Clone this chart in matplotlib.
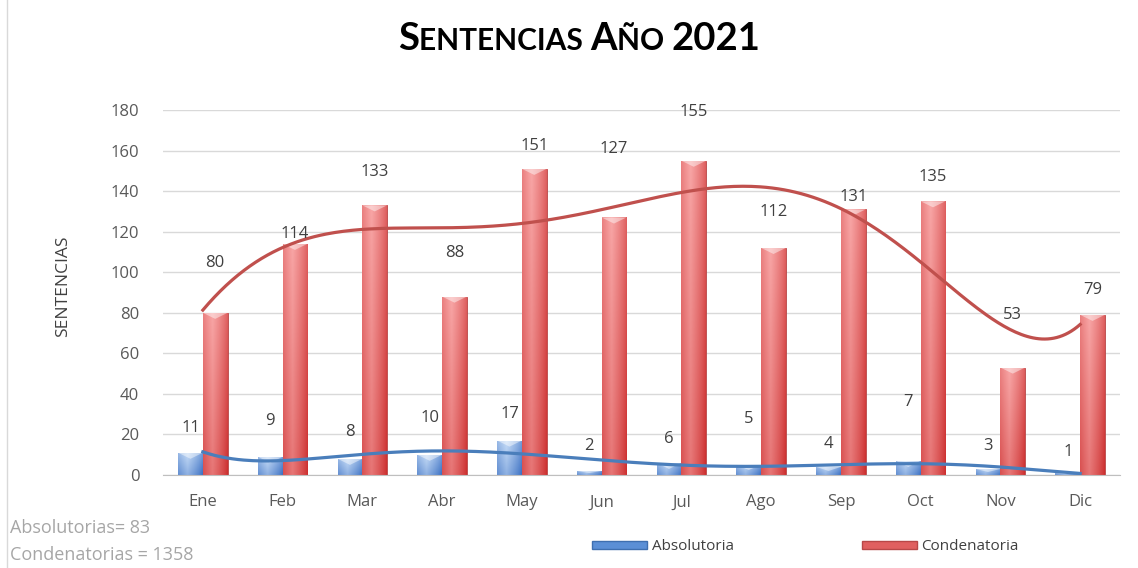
import numpy as np
import matplotlib
matplotlib.use('Agg')
import matplotlib.pyplot as plt
from matplotlib.patches import Rectangle, Polygon
from matplotlib.lines import Line2D

# ── datos ─────────────────────────────────────────────
meses = ['Ene', 'Feb', 'Mar', 'Abr', 'May', 'Jun', 'Jul', 'Ago', 'Sep', 'Oct', 'Nov', 'Dic']
absolutoria = [11, 9, 8, 10, 17, 2, 6, 5, 4, 7, 3, 1]
condenatoria = [80, 114, 133, 88, 151, 127, 155, 112, 131, 135, 53, 79]

# posición vertical de las etiquetas (colocadas a mano en el original)
etiq_abs_y = [23, 26.5, 21, 28, 30, 14.5, 18, 27.5, 15.5, 36, 14.5, 11.5]
etiq_con_y = [104.5, 119, 149.5, 109.5, 162.5, 161, 179, 129.5, 137, 147, 79, 91]

plt.rcParams['font.family'] = ['Open Sans', 'DejaVu Sans']
GRIS = '#595959'

fig = plt.figure(figsize=(11.38, 5.68), dpi=100)
ax = fig.add_axes([0.1432, 0.1637, 0.8410, 0.6426])

x = np.arange(len(meses))
w = 0.31


def barra_degradado(ax, barras, claro, oscuro):
    claro = np.array(matplotlib.colors.to_rgb(claro))
    oscuro = np.array(matplotlib.colors.to_rgb(oscuro))
    u = np.linspace(0, 1, 40)
    horiz = np.clip(1 - np.abs(u - 0.38) / 0.62, 0, 1) ** 0.8
    v = np.linspace(0, 1, 80)
    for b in barras:
        x0, y0 = b.get_x(), b.get_y()
        bw, bh = b.get_width(), b.get_height()
        if bh <= 0:
            continue
        mezcla = 0.6 * horiz[None, :] + 0.4 * v[:, None]
        img = oscuro + (claro - oscuro) * mezcla[..., None]
        im = ax.imshow(img, extent=(x0, x0 + bw, y0, y0 + bh), origin='lower',
                       aspect='auto', zorder=2, interpolation='bilinear')
        im.set_clip_path(b)
        # bisel superior
        bis = min(bh * 0.5, 3.0)
        tri = Polygon([(x0, y0 + bh), (x0 + bw, y0 + bh), (x0 + bw / 2, y0 + bh - bis)],
                      closed=True, fc='white', ec='none', alpha=0.45, zorder=3)
        ax.add_patch(tri)


b_abs = ax.bar(x - w / 2, absolutoria, w, color='#6d9be0', edgecolor='#6a8fc0',
               linewidth=0.6, zorder=2)
b_con = ax.bar(x + w / 2, condenatoria, w, color='#e05050', edgecolor='#b84848',
               linewidth=0.6, zorder=2)
barra_degradado(ax, b_abs, '#c6dcf7', '#3a6fc2')
barra_degradado(ax, b_con, '#f8a6a6', '#cc2e2e')

# líneas de tendencia polinómicas (como en Excel)
xs = np.linspace(0, len(meses) - 1, 300)
p_abs = np.polyfit(x, absolutoria, 6)
p_con = np.polyfit(x, condenatoria, 6)
ax.plot(xs, np.polyval(p_con, xs), color='#c0504d', lw=2.3, zorder=4)
ax.plot(xs, np.polyval(p_abs, xs), color='#4a7ebb', lw=2.3, zorder=4)

# etiquetas de datos
for i in range(len(meses)):
    ax.text(x[i] - w / 2, etiq_abs_y[i], str(absolutoria[i]), ha='center', va='center',
            fontsize=12, color='#404040', zorder=5)
    ax.text(x[i] + w / 2, etiq_con_y[i], str(condenatoria[i]), ha='center', va='center',
            fontsize=12, color='#404040', zorder=5)

ax.set_xlim(-0.5, len(meses) - 0.5)
ax.set_ylim(0, 180)
ax.set_yticks(range(0, 181, 20))
ax.set_xticks(x)
ax.set_xticklabels(meses)
ax.tick_params(axis='both', length=0, labelsize=12, colors=GRIS)
ax.tick_params(axis='y', pad=17)
ax.tick_params(axis='x', pad=14)
ax.grid(axis='y', color='#d9d9d9', lw=1, zorder=0)
ax.set_axisbelow(True)
for s in ['top', 'right', 'left']:
    ax.spines[s].set_visible(False)
ax.spines['bottom'].set_color('#bfbfbf')

fig.text(63 / 1138, 1 - 286 / 568, 'SENTENCIAS', rotation=90, ha='center', va='center',
         fontsize=12.5, color='#404040')

# título en versalitas
fig.canvas.draw()
rend = fig.canvas.get_renderer()
partes = [('S', 27.5), ('ENTENCIAS ', 21.5), ('A', 27.5), ('ÑO ', 21.5), ('2021', 27.5)]
txts = []
for t, fs in partes:
    tx = fig.text(0, 0, t, fontsize=fs, fontweight='bold', family='Lato',
                  color='#000000', va='baseline', ha='left')
    txts.append(tx)
anchos = [tx.get_window_extent(rend).width for tx in txts]
total = sum(anchos)
xpos = 579 - total / 2
for tx, a in zip(txts, anchos):
    tx.set_position((xpos / 1138, 1 - 50 / 568))
    xpos += a

# totales
fig.text(10 / 1138, 1 - 528 / 568, f'Absolutorias= {sum(absolutoria)}', fontsize=13,
         color='#a6a6a6', va='center')
fig.text(10 / 1138, 1 - 555 / 568, f'Condenatorias = {sum(condenatoria)}', fontsize=13,
         color='#a6a6a6', va='center')

# leyenda
h_abs = Rectangle((0, 0), 1, 1, fc='#5b8fd6', ec='#3f6fb0')
h_con = Rectangle((0, 0), 1, 1, fc='#e06060', ec='#b84848')
fig.legend([h_abs, h_con], ['Absolutoria', 'Condenatoria'], ncol=2, frameon=False,
           loc='center left', bbox_to_anchor=(592 / 1138, 1 - 547 / 568),
           fontsize=11, labelcolor='#404040', handlelength=3.6, handleheight=0.5,
           handletextpad=0.3, columnspacing=8.4, borderpad=0, borderaxespad=0)

fig.add_artist(Line2D([7 / 1138, 7 / 1138], [0, 1], transform=fig.transFigure,
                      color='#d9d9d9', lw=1))

fig.savefig('out.png', dpi=100)
